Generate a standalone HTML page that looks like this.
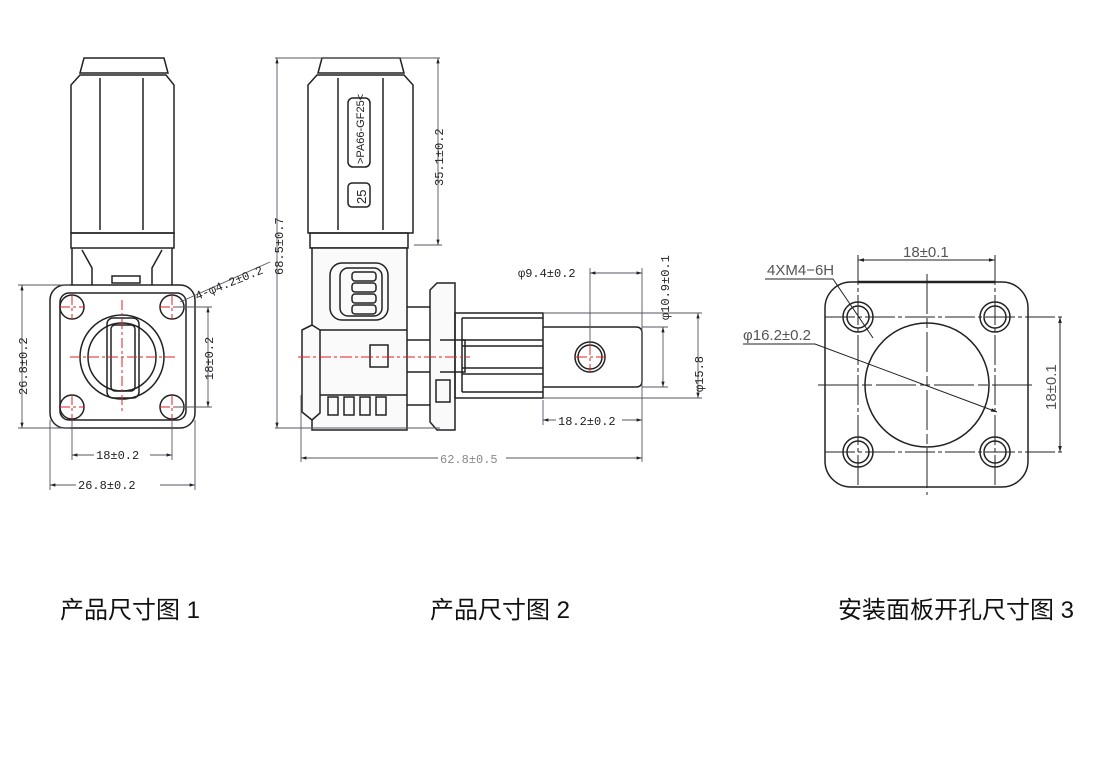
<!DOCTYPE html>
<html><head><meta charset="utf-8"><style>
body{margin:0;background:#fff;width:1100px;height:766px;overflow:hidden}
svg{position:absolute;left:0;top:0}
.cap{position:absolute;font-family:"Liberation Sans","Noto Sans CJK SC",sans-serif;font-size:24px;color:#111;top:590px;white-space:nowrap}
</style></head><body>
<svg width="1100" height="766" viewBox="0 0 1100 766" font-family="Liberation Mono, monospace">
<defs>
<marker id="a" viewBox="0 0 10 10" refX="10" refY="5" markerWidth="8" markerHeight="6" orient="auto-start-reverse"><path d="M0,2 L10,5 L0,8z" fill="#222"/></marker>
</defs>
<g fill="none" stroke="#222" stroke-width="1.5">
<!-- Drawing 1 -->
<path d="M80,73 L84,58 L164,58 L168,73 Z"/>
<path d="M71,233 L71,85 L80,75 L166,75 L174,85 L174,233 Z"/>
<line x1="100" y1="78" x2="100" y2="230"/><line x1="143" y1="78" x2="143" y2="230"/>
<rect x="71" y="233" width="103" height="15"/>
<path d="M72,248 L72,285 M172,248 L172,285 M82,250 L92,268 L92,285 M162,250 L152,268 L152,285 M112,276 L140,276 L140,283 L112,283Z"/>
<rect x="50" y="285" width="145" height="143" rx="15"/>
<rect x="60" y="293" width="126" height="127" rx="9"/>
<circle cx="72" cy="307" r="12"/><circle cx="172" cy="307" r="12"/>
<circle cx="72" cy="407" r="12"/><circle cx="172" cy="407" r="12"/>
<circle cx="122" cy="357" r="42"/><circle cx="122" cy="357" r="34"/>
<rect x="107" y="318" width="32" height="80" rx="6"/>
<rect x="111" y="325" width="24" height="66" rx="4"/>
<g stroke="#e02020" stroke-width="1" stroke-dasharray="10,3,3,3">
<line x1="70" y1="357" x2="175" y2="357"/><line x1="122" y1="300" x2="122" y2="412"/>
<line x1="60" y1="307" x2="84" y2="307"/><line x1="72" y1="295" x2="72" y2="319"/>
<line x1="160" y1="307" x2="184" y2="307"/><line x1="172" y1="295" x2="172" y2="319"/>
<line x1="60" y1="407" x2="84" y2="407"/><line x1="72" y1="395" x2="72" y2="419"/>
<line x1="160" y1="407" x2="184" y2="407"/><line x1="172" y1="395" x2="172" y2="419"/>
</g>
</g>
<g fill="none" stroke="#556" stroke-width="0.9">
<line x1="18" y1="285" x2="70" y2="285"/><line x1="18" y1="428" x2="70" y2="428"/>
<line x1="22" y1="285" x2="22" y2="428" marker-start="url(#a)" marker-end="url(#a)"/>
<line x1="175" y1="307" x2="212" y2="307"/><line x1="175" y1="407" x2="212" y2="407"/>
<line x1="208" y1="307" x2="208" y2="407" marker-start="url(#a)" marker-end="url(#a)"/>
<line x1="72" y1="419" x2="72" y2="460"/><line x1="172" y1="419" x2="172" y2="460"/>
<line x1="72" y1="455" x2="172" y2="455" marker-start="url(#a)" marker-end="url(#a)"/>
<line x1="50" y1="420" x2="50" y2="490"/><line x1="195" y1="420" x2="195" y2="490"/>
<line x1="50" y1="485" x2="195" y2="485" marker-start="url(#a)" marker-end="url(#a)"/>
<line x1="180" y1="302" x2="270" y2="262"/>
</g>
<g font-size="12" fill="#222">
<rect x="94" y="447" width="56" height="14" fill="#fff"/><text x="96" y="459">18±0.2</text>
<rect x="76" y="477" width="84" height="14" fill="#fff"/><text x="78" y="489">26.8±0.2</text>
<text transform="translate(27,395) rotate(-90)">26.8±0.2</text>
<text transform="translate(213,380) rotate(-90)">18±0.2</text>
<text transform="translate(197,300) rotate(-22)">4-φ4.2±0.2</text>
</g>
<!-- Drawing 2 -->
<g fill="none" stroke="#222" stroke-width="1.5">
<path d="M318,73 L322,58 L400,58 L404,73 Z"/>
<path d="M308,233 L308,85 L317,75 L404,75 L413,85 L413,233 Z"/>
<line x1="338" y1="78" x2="338" y2="230"/><line x1="383" y1="78" x2="383" y2="230"/>
<rect x="310" y="233" width="98" height="15"/>
<rect x="348" y="98" width="22" height="69" rx="5"/>
<rect x="348" y="183" width="22" height="24" rx="4"/>
<path d="M312,248 L312,325 L302,330 L302,412 L312,420 L312,430 L407,430 L407,248 Z" fill="#fafafa"/>
<path d="M302,330 L312,325 L320,330 L320,413 L312,420"/>
<rect x="330" y="263" width="58" height="57" rx="12"/>
<rect x="340" y="268" width="42" height="48" rx="8"/>
<rect x="352" y="272" width="24" height="9" rx="3"/><rect x="352" y="283" width="24" height="9" rx="3"/>
<rect x="352" y="294" width="24" height="9" rx="3"/><rect x="352" y="305" width="24" height="9" rx="3"/>
<path d="M320,330 L407,330 M320,395 L407,395"/>
<rect x="328" y="397" width="10" height="18"/><rect x="344" y="397" width="10" height="18"/>
<rect x="360" y="397" width="10" height="18"/><rect x="376" y="397" width="10" height="18"/>
<rect x="370" y="345" width="18" height="22"/>
<path d="M407,307 L430,307 M407,405 L430,405 M407,340 L430,340 M407,372 L430,372"/>
<path d="M430,290 L437,283 L455,283 L455,430 L437,430 L430,422 Z" fill="#fafafa"/>
<rect x="436" y="380" width="14" height="22"/>
<path d="M440,340 L465,340 L465,372 L440,372"/>
<rect x="455" y="313" width="88" height="85"/>
<path d="M462,318 L543,318 M462,340 L543,340 M462,346 L543,346 M462,368 L543,368 M462,374 L543,374 M462,392 L543,392 M462,318 L462,392"/>
<path d="M543,327 L636,327 Q642,327 642,333 L642,381 Q642,387 636,387 L543,387"/>
<circle cx="590" cy="357" r="15"/><circle cx="590" cy="357" r="12"/>
</g>
<g stroke="#e02020" stroke-width="1" stroke-dasharray="12,3,3,3" fill="none">
<line x1="298" y1="357" x2="470" y2="357"/>
<line x1="575" y1="357" x2="606" y2="357"/><line x1="590" y1="343" x2="590" y2="372"/>
</g>
<g fill="none" stroke="#556" stroke-width="0.9">
<line x1="275" y1="58" x2="440" y2="58"/><line x1="275" y1="428" x2="440" y2="428"/>
<line x1="277" y1="58" x2="277" y2="428" marker-start="url(#a)" marker-end="url(#a)"/>
<line x1="414" y1="245" x2="442" y2="245"/>
<line x1="438" y1="58" x2="438" y2="245" marker-start="url(#a)" marker-end="url(#a)"/>
<line x1="590" y1="268" x2="590" y2="345"/><line x1="642" y1="268" x2="642" y2="462"/>
<line x1="590" y1="273" x2="642" y2="273" marker-start="url(#a)" marker-end="url(#a)"/>
<line x1="642" y1="327" x2="668" y2="327"/><line x1="642" y1="387" x2="668" y2="387"/>
<line x1="663" y1="327" x2="663" y2="387" marker-start="url(#a)" marker-end="url(#a)"/>
<line x1="543" y1="313" x2="702" y2="313"/><line x1="543" y1="398" x2="702" y2="398"/>
<line x1="698" y1="313" x2="698" y2="398" marker-start="url(#a)" marker-end="url(#a)"/>
<line x1="543" y1="400" x2="543" y2="425"/>
<line x1="543" y1="420" x2="642" y2="420" marker-start="url(#a)" marker-end="url(#a)"/>
<line x1="301" y1="395" x2="301" y2="462"/>
<line x1="301" y1="458" x2="642" y2="458" marker-start="url(#a)" marker-end="url(#a)"/>
</g>
<g font-size="12" fill="#222">
<text x="518" y="277">φ9.4±0.2</text>
<rect x="556" y="413" width="66" height="14" fill="#fff"/><text x="558" y="425">18.2±0.2</text>
<rect x="438" y="451" width="68" height="14" fill="#fff"/><text x="440" y="463" fill="#888">62.8±0.5</text>
<text transform="translate(283,275) rotate(-90)">68.5±0.7</text>
<text transform="translate(443,186) rotate(-90)">35.1±0.2</text>
<text transform="translate(669,320) rotate(-90)">φ10.9±0.1</text>
<text transform="translate(703,392) rotate(-90)">φ15.8</text>
<text transform="translate(364,164) rotate(-90)" font-size="11" font-family="Liberation Sans Narrow, Liberation Sans, sans-serif">&gt;PA66-GF25&lt;</text>
<text transform="translate(366,204) rotate(-90)" font-size="13" font-family="Liberation Sans, sans-serif">25</text>
</g>
<!-- Drawing 3 -->
<g fill="none" stroke="#222" stroke-width="1.5">
<rect x="825" y="282" width="203" height="205" rx="26"/>
<line x1="858" y1="282" x2="995" y2="282" stroke-width="2.4"/>
<circle cx="858" cy="317" r="15"/><circle cx="858" cy="317" r="11"/>
<circle cx="995" cy="317" r="15"/><circle cx="995" cy="317" r="11"/>
<circle cx="858" cy="452" r="15"/><circle cx="858" cy="452" r="11"/>
<circle cx="995" cy="452" r="15"/><circle cx="995" cy="452" r="11"/>
<circle cx="927" cy="385" r="62"/>
</g>
<g fill="none" stroke="#222" stroke-width="1">
<line x1="927" y1="274" x2="927" y2="495" stroke-dasharray="40,4,10,4"/>
<line x1="818" y1="385" x2="1035" y2="385" stroke-dasharray="40,4,10,4"/>
<line x1="825" y1="317" x2="1065" y2="317" stroke-dasharray="30,3,4,3"/>
<line x1="825" y1="452" x2="1065" y2="452" stroke-dasharray="30,3,4,3"/>
<line x1="858" y1="255" x2="858" y2="487" stroke-dasharray="30,3,4,3"/>
<line x1="995" y1="255" x2="995" y2="487" stroke-dasharray="30,3,4,3"/>
<line x1="858" y1="260" x2="995" y2="260" marker-start="url(#a)" marker-end="url(#a)"/>
<line x1="1060" y1="317" x2="1060" y2="452" marker-start="url(#a)" marker-end="url(#a)"/>
<path d="M765,279 L833,279 L873,338"/>
<path d="M743,344 L815,344 L997,412" marker-end="url(#a)"/>
</g>
<g font-size="15" fill="#555" font-family="Liberation Sans, sans-serif">
<text x="903" y="257">18±0.1</text>
<text x="767" y="275">4XM4−6H</text>
<text x="743" y="340">φ16.2±0.2</text>
<text transform="translate(1056,410) rotate(-90)">18±0.1</text>
</g>
</svg>
<div class="cap" style="left:60px">产品尺寸图 1</div>
<div class="cap" style="left:430px">产品尺寸图 2</div>
<div class="cap" style="left:838px">安装面板开孔尺寸图 3</div>
</body></html>
